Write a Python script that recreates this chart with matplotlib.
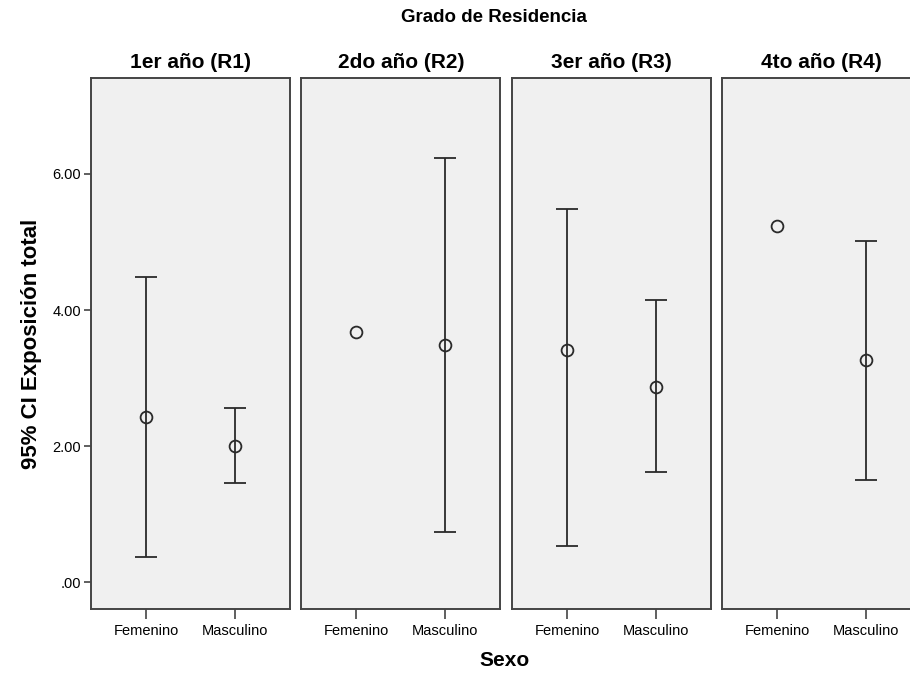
import numpy as np
import matplotlib.pyplot as plt

plt.rcParams['font.family'] = ['Liberation Sans', 'DejaVu Sans']

# datos
grados = ['1er año (R1)', '2do año (R2)', '3er año (R3)', '4to año (R4)']
sexos = ['Femenino', 'Masculino']
media_fem = [2.43, 3.68, 3.41, 5.23]
inf_fem = [0.37, None, 0.53, None]
sup_fem = [4.49, None, 5.49, None]
media_mas = [2.01, 3.49, 2.87, 3.27]
inf_mas = [1.46, 0.74, 1.62, 1.51]
sup_mas = [2.56, 6.24, 4.15, 5.02]
yticks = [0, 2, 4, 6]
ytick_labels = ['.00', '2.00', '4.00', '6.00']

W, H = 910, 675
fig = plt.figure(figsize=(W / 100, H / 100), dpi=100)

edge = '#444444'
linea = '#2a2a2a'

for i, g in enumerate(grados):
    left = 91 + i * 210.4
    ax = fig.add_axes([left / W, 1 - 609 / H, 199 / W, (609 - 78) / H])
    ax.set_facecolor('#f0f0f0')
    for s in ax.spines.values():
        s.set_color(edge)
        s.set_linewidth(1.4)

    medias = [media_fem[i], media_mas[i]]
    infs = [inf_fem[i], inf_mas[i]]
    sups = [sup_fem[i], sup_mas[i]]
    for j in range(2):
        x = j + 1
        if infs[j] is not None:
            ax.errorbar(x, medias[j],
                        yerr=[[medias[j] - infs[j]], [sups[j] - medias[j]]],
                        fmt='none', ecolor=linea, elinewidth=1.3,
                        capsize=8, capthick=1.3, zorder=2)
        ax.plot(x, medias[j], 'o', mfc='none', mec=linea, mew=1.3,
                ms=8.5, zorder=3)

    ax.set_xlim(0.38, 2.62)
    ax.set_ylim(-0.39, 7.41)
    ax.set_xticks([1, 2])
    ax.set_xticklabels(sexos, fontsize=10.5)
    ax.tick_params(axis='x', length=7, width=1.2, color=edge, pad=4)
    if i == 0:
        ax.set_yticks(yticks)
        ax.set_yticklabels(ytick_labels, fontsize=10.5)
        ax.tick_params(axis='y', length=5, width=1.2, color=edge, pad=2)
        ax.set_ylabel('95% CI Exposición total', fontsize=16,
                      fontweight='bold', labelpad=8)
    else:
        ax.set_yticks([])
    ax.set_title(g, fontsize=15, fontweight='bold', pad=7)

fig.text(494 / W, 1 - 18 / H, 'Grado de Residencia', ha='center',
         va='center', fontsize=13.5, fontweight='bold')
fig.text(505 / W, 1 - 660 / H, 'Sexo', ha='center', va='center',
         fontsize=15, fontweight='bold')

fig.savefig('out.png', dpi=100, facecolor='white')
